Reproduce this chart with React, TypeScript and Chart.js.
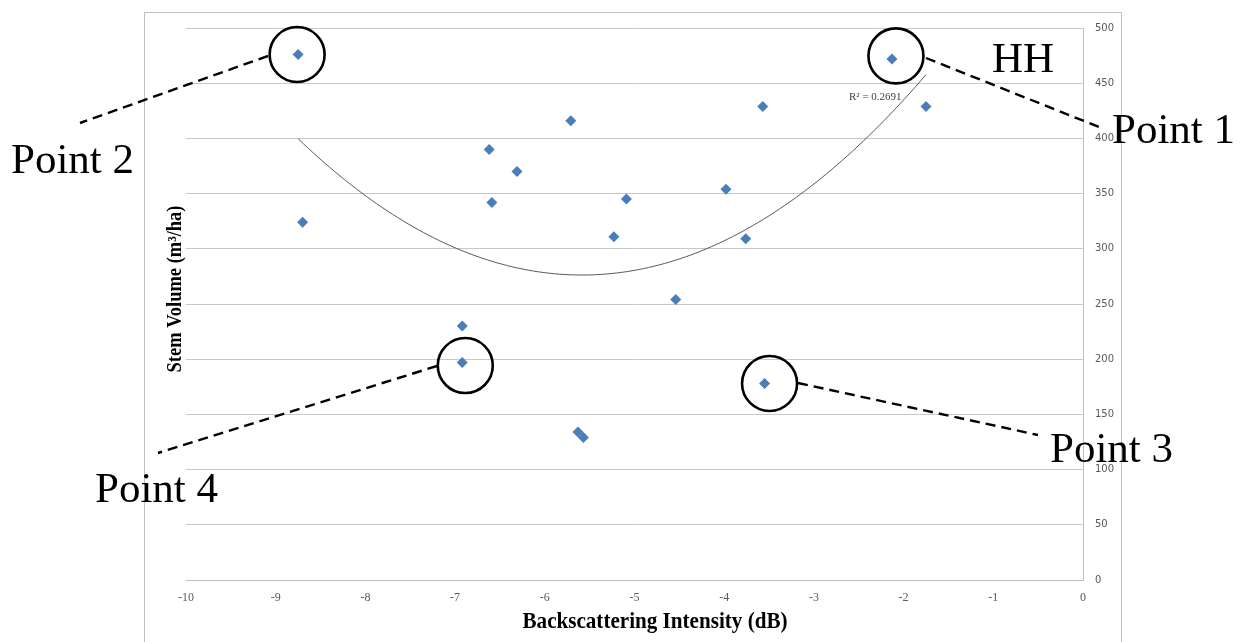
import React, { useEffect, useRef } from "react";
import { Chart, registerables } from "chart.js";

Chart.register(...registerables);

// Backscattering intensity (dB) of each plot
const intensityDb = [
  -8.75, -8.7, -6.62, -6.59, -6.31, -6.92, -6.92, -5.71, -5.63, -5.57,
  -5.23, -5.09, -4.54, -3.98, -3.76, -3.57, -3.55, -2.13, -1.75,
];
// Stem volume (m³/ha) of each plot
const stemVolume = [
  476, 324, 390, 342, 370, 230, 197, 416, 134, 129,
  311, 345, 254, 354, 309, 429, 178, 472, 429,
];
// Highlighted plots: label and index into the arrays above
const calloutLabels = ["Point 1", "Point 2", "Point 3", "Point 4"];
const calloutIndex = [17, 0, 16, 6];

const xTickMin = -10;
const xTickMax = 0;
const yTickMin = 0;
const yTickMax = 500;
const rSquaredText = "R² = 0.2691";
const polarisation = "HH";
const xTitle = "Backscattering Intensity (dB)";
const yTitle = "Stem Volume (m³/ha)";

// second-order polynomial least-squares trendline (as Excel draws it)
function quadFit(xs: number[], ys: number[]) {
  const s = [0, 0, 0, 0, 0];
  const t = [0, 0, 0];
  for (let i = 0; i < xs.length; i++) {
    let p = 1;
    for (let k = 0; k < 5; k++) {
      s[k] += p;
      if (k < 3) t[k] += p * ys[i];
      p *= xs[i];
    }
  }
  const m = [
    [s[0], s[1], s[2]],
    [s[1], s[2], s[3]],
    [s[2], s[3], s[4]],
  ];
  const det = (a: number[][]) =>
    a[0][0] * (a[1][1] * a[2][2] - a[1][2] * a[2][1]) -
    a[0][1] * (a[1][0] * a[2][2] - a[1][2] * a[2][0]) +
    a[0][2] * (a[1][0] * a[2][1] - a[1][1] * a[2][0]);
  const d = det(m);
  const coef = [0, 1, 2].map((c) => {
    const mc = m.map((row, r) => row.map((v, j) => (j === c ? t[r] : v)));
    return det(mc) / d;
  });
  return coef; // c0 + c1 x + c2 x^2
}

const fitCoef = quadFit(intensityDb, stemVolume);
const fitStart = Math.min(...intensityDb);
const fitEnd = Math.max(...intensityDb);
const trendData = Array.from({ length: 121 }, (_, i) => {
  const x = fitStart + ((fitEnd - fitStart) * i) / 120;
  return { x, y: fitCoef[0] + fitCoef[1] * x + fitCoef[2] * x * x };
});

// overlay layout (pixels)
const calloutStyle = [
  { dx: 4, dy: -3, from: [926, 58], to: [1104, 129], text: [1112, 143] },
  { dx: -1, dy: 0, from: [268, 56], to: [80, 123], text: [11, 173] },
  { dx: 5, dy: 0, from: [798, 383], to: [1038, 435], text: [1050, 462] },
  { dx: 3, dy: 3, from: [437, 366], to: [158, 453], text: [95, 502] },
];

const overlayPlugin = {
  id: "overlay",
  beforeDraw(chart: any) {
    const ctx = chart.ctx;
    ctx.save();
    ctx.fillStyle = "#ffffff";
    ctx.fillRect(0, 0, chart.width, chart.height);
    ctx.strokeStyle = "#c0c0c0";
    ctx.lineWidth = 1;
    ctx.strokeRect(144.5, 12.5, 977, 700);
    ctx.restore();
  },
  afterDraw(chart: any) {
    const ctx = chart.ctx;
    const xs = chart.scales.x;
    const ys = chart.scales.y;
    ctx.save();

    // x-axis title
    ctx.fillStyle = "#000000";
    ctx.font = 'bold 23px "Liberation Serif"';
    ctx.textAlign = "center";
    ctx.textBaseline = "alphabetic";
    let w = ctx.measureText(xTitle).width;
    ctx.save();
    ctx.translate(655, 628);
    ctx.scale(265 / w, 1);
    ctx.fillText(xTitle, 0, 0);
    ctx.restore();

    // y-axis title
    ctx.font = 'bold 20px "Liberation Serif"';
    w = ctx.measureText(yTitle).width;
    ctx.save();
    ctx.translate(181, 289);
    ctx.rotate(-Math.PI / 2);
    ctx.scale(167 / w, 1);
    ctx.fillText(yTitle, 0, 0);
    ctx.restore();

    // R² label
    ctx.font = '11px "Liberation Serif"';
    ctx.fillStyle = "#404040";
    ctx.textAlign = "left";
    ctx.fillText(rSquaredText, 849, 100);

    // callouts
    ctx.strokeStyle = "#000000";
    ctx.fillStyle = "#000000";
    calloutLabels.forEach((label, i) => {
      const idx = calloutIndex[i];
      const st = calloutStyle[i];
      const cx = xs.getPixelForValue(intensityDb[idx]) + st.dx;
      const cy = ys.getPixelForValue(stemVolume[idx]) + st.dy;
      ctx.lineWidth = 2.6;
      ctx.setLineDash([]);
      ctx.beginPath();
      ctx.arc(cx, cy, 27.5, 0, Math.PI * 2);
      ctx.stroke();
      ctx.lineWidth = 2.4;
      ctx.setLineDash([10, 6]);
      ctx.beginPath();
      ctx.moveTo(st.from[0], st.from[1]);
      ctx.lineTo(st.to[0], st.to[1]);
      ctx.stroke();
      ctx.setLineDash([]);
      ctx.font = '43px "Liberation Serif"';
      ctx.textAlign = "left";
      ctx.fillText(label, st.text[0], st.text[1]);
    });

    ctx.font = '43px "Liberation Serif"';
    ctx.fillText(polarisation, 992, 72);
    ctx.restore();
  },
};

export default function App() {
  const canvasRef = useRef<HTMLCanvasElement | null>(null);

  useEffect(() => {
    const canvas = canvasRef.current;
    if (!canvas) return;
    const points = intensityDb.map((x, i) => ({ x, y: stemVolume[i] }));
    const chart = new Chart(canvas, {
      type: "scatter",
      data: {
        datasets: [
          {
            label: "Stem volume",
            data: points,
            pointStyle: "rectRot",
            pointRadius: 5.5,
            backgroundColor: "#4a7ebb",
            borderColor: "#4a7ebb",
            borderWidth: 0,
            order: 1,
          },
          {
            label: "Poly. trend",
            data: trendData,
            showLine: true,
            pointRadius: 0,
            borderColor: "#5a5a5a",
            borderWidth: 1,
            tension: 0,
            order: 2,
          } as any,
        ],
      },
      options: {
        responsive: false,
        animation: false,
        devicePixelRatio: 1,
        layout: { padding: { left: 186, top: 28, right: 0, bottom: 0 } },
        plugins: {
          legend: { display: false },
          tooltip: { enabled: false },
        },
        scales: {
          x: {
            type: "linear",
            min: xTickMin,
            max: xTickMax,
            ticks: {
              stepSize: 1,
              padding: 3,
              color: "#595959",
              font: { family: '"Liberation Serif"', size: 12 },
            },
            grid: { display: false },
            border: { display: true, color: "#bfbfbf", width: 1 },
            afterFit: (scale: any) => {
              scale.height = 62;
            },
          },
          y: {
            type: "linear",
            position: "right",
            min: yTickMin,
            max: yTickMax,
            ticks: {
              stepSize: 50,
              padding: 12,
              color: "#595959",
              font: { family: '"DejaVu Sans"', size: 10 },
            },
            grid: { color: "#c8c8c8", lineWidth: 1, drawTicks: false },
            border: { display: true, color: "#bfbfbf", width: 1 },
            afterFit: (scale: any) => {
              scale.width = 163;
            },
          },
        },
      },
      plugins: [overlayPlugin],
    });
    return () => chart.destroy();
  }, []);

  return (
    <div style={{ position: "fixed", left: 0, top: 0, width: 1246, height: 642, background: "#fff" }}>
      <canvas ref={canvasRef} width={1246} height={642} />
    </div>
  );
}
